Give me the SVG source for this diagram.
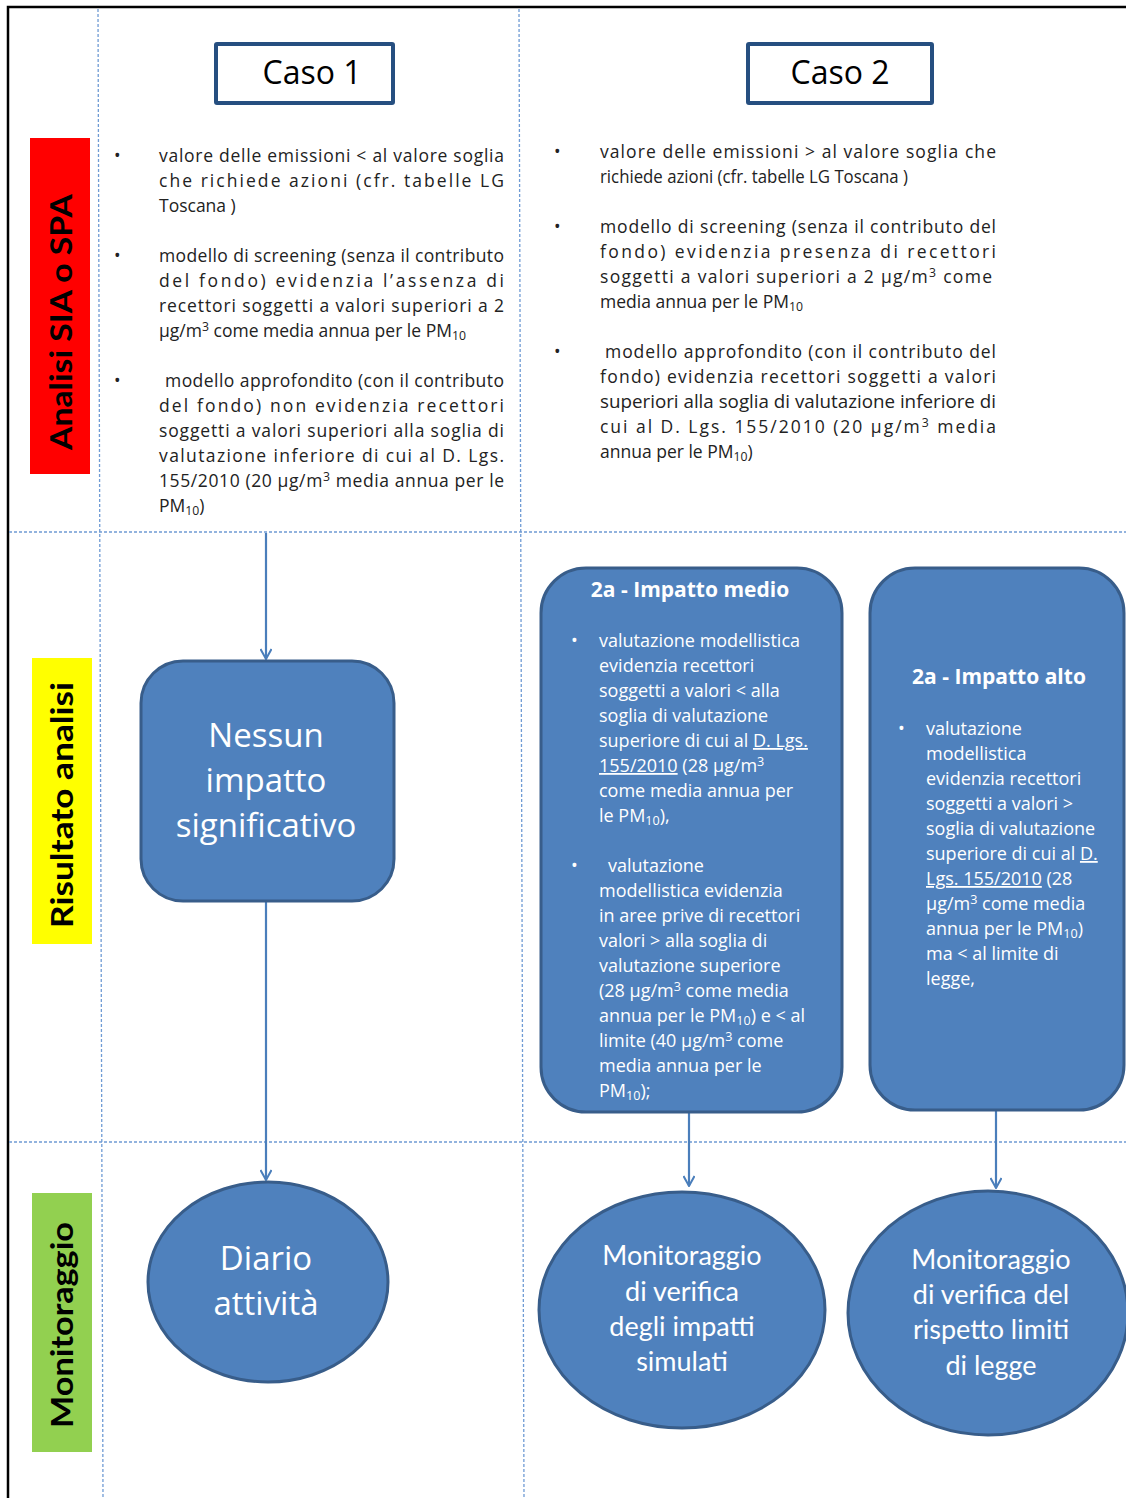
<svg xmlns="http://www.w3.org/2000/svg" width="1126" height="1498" viewBox="0 0 1126 1498">
<defs>
<style>
.grid{stroke:#6f9bd4;stroke-width:1.3;stroke-dasharray:3 2;fill:none}
.t{font-family:"Open Sans",Lato,"Liberation Sans",sans-serif;font-size:17.5px;fill:#222}
.b{font-family:"Open Sans",Lato,"Liberation Sans",sans-serif;font-size:18px;fill:#fff}
.h{font-family:"Open Sans",Lato,"Liberation Sans",sans-serif;font-size:21px;font-weight:bold;fill:#fff;text-anchor:middle}
.big{font-family:"Open Sans",Lato,"Liberation Sans",sans-serif;font-size:33px;fill:#fff;text-anchor:middle}
.mid{font-family:Lato,"Open Sans","Liberation Sans",sans-serif;font-size:27px;fill:#fff;text-anchor:middle}
.lab{font-family:Lato,"Open Sans","Liberation Sans",sans-serif;font-size:30px;font-weight:bold;fill:#000;text-anchor:middle}
.caso{font-family:"Open Sans",Lato,"Liberation Sans",sans-serif;font-size:32px;fill:#000;text-anchor:middle}
.node{fill:#4f81bd;stroke:#385d8a;stroke-width:3}
.conn{stroke:#4a7ebb;stroke-width:2.2;fill:none}
.sub{font-size:70%}
.u{text-decoration:underline}
</style>
<marker id="arr" viewBox="0 0 12 12" refX="11" refY="6" markerWidth="12" markerHeight="12" markerUnits="userSpaceOnUse" orient="auto">
<path d="M1,0.5 L11,6 L1,11.5" fill="none" stroke="#4a7ebb" stroke-width="2"/>
</marker>
</defs>
<rect width="1126" height="1498" fill="#fff"/>
<g id="frame">
<path d="M8,1498 V7 H1126" fill="none" stroke="#000" stroke-width="2.5"/>
<line class="grid" x1="98" y1="9" x2="103" y2="1498"/>
<line class="grid" x1="519" y1="9" x2="524" y2="1498"/>
<line class="grid" x1="9" y1="532" x2="1126" y2="532"/>
<line class="grid" x1="9" y1="1142" x2="1126" y2="1142"/>
</g>
<g id="label-analisi">
<rect x="30" y="138" width="60" height="336" fill="#ff0000"/>
<text class="lab" transform="translate(72,322) rotate(-90)" textLength="256" lengthAdjust="spacingAndGlyphs">Analisi SIA o SPA</text>
</g>
<g id="label-risultato">
<rect x="32" y="658" width="60" height="286" fill="#ffff00"/>
<text class="lab" transform="translate(73,805) rotate(-90)" textLength="246" lengthAdjust="spacingAndGlyphs">Risultato analisi</text>
</g>
<g id="label-monitoraggio">
<rect x="32" y="1193" width="60" height="259" fill="#92d050"/>
<text class="lab" transform="translate(73,1325) rotate(-90)" textLength="206" lengthAdjust="spacingAndGlyphs">Monitoraggio</text>
</g>
<g id="caso1">
<rect x="216" y="44" width="177" height="59" fill="#fff" stroke="#264f80" stroke-width="4" rx="1"/>
<text class="caso" x="312" y="84">Caso 1</text>
</g>
<g id="caso2">
<rect x="748" y="44" width="184" height="59" fill="#fff" stroke="#264f80" stroke-width="4" rx="1"/>
<text class="caso" x="840" y="84">Caso 2</text>
</g>
<g id="testo-caso1" class="t">
<text x="114" y="162">•</text>
<text x="159" y="162" textLength="345" lengthAdjust="spacing">valore delle emissioni &lt; al valore soglia</text>
<text x="159" y="187" textLength="345" lengthAdjust="spacing">che richiede azioni (cfr. tabelle LG</text>
<text x="159" y="212">Toscana )</text>
<text x="114" y="262">•</text>
<text x="159" y="262" textLength="345" lengthAdjust="spacing">modello di screening (senza il contributo</text>
<text x="159" y="287" textLength="345" lengthAdjust="spacing">del fondo) evidenzia l’assenza di</text>
<text x="159" y="312" textLength="345" lengthAdjust="spacing">recettori soggetti a valori superiori a 2</text>
<text x="159" y="337">µg/m<tspan class="sub" dy="-6">3</tspan><tspan dy="6"> come media annua per le PM</tspan><tspan class="sub" dy="3">10</tspan></text>
<text x="114" y="387">•</text>
<text x="165" y="387" textLength="339" lengthAdjust="spacing">modello approfondito (con il contributo</text>
<text x="159" y="412" textLength="345" lengthAdjust="spacing">del fondo) non evidenzia recettori</text>
<text x="159" y="437" textLength="345" lengthAdjust="spacing">soggetti a valori superiori alla soglia di</text>
<text x="159" y="462" textLength="345" lengthAdjust="spacing">valutazione inferiore di cui al D. Lgs.</text>
<text x="159" y="487" textLength="345" lengthAdjust="spacing">155/2010 (20 µg/m<tspan class="sub" dy="-6">3</tspan><tspan dy="6"> media annua per le</tspan></text>
<text x="159" y="512">PM<tspan class="sub" dy="3">10</tspan><tspan dy="-3">)</tspan></text>
</g>
<g id="testo-caso2" class="t">
<text x="554" y="158">•</text>
<text x="600" y="158" textLength="396" lengthAdjust="spacing">valore delle emissioni &gt; al valore soglia che</text>
<text x="600" y="183" textLength="308" lengthAdjust="spacingAndGlyphs">richiede azioni (cfr. tabelle LG Toscana )</text>
<text x="554" y="233">•</text>
<text x="600" y="233" textLength="396" lengthAdjust="spacing">modello di screening (senza il contributo del</text>
<text x="600" y="258" textLength="396" lengthAdjust="spacing">fondo) evidenzia presenza   di recettori</text>
<text x="600" y="283" textLength="392" lengthAdjust="spacing">soggetti a valori superiori a 2 µg/m<tspan class="sub" dy="-6">3</tspan><tspan dy="6"> come</tspan></text>
<text x="600" y="308">media annua per le PM<tspan class="sub" dy="3">10</tspan></text>
<text x="554" y="358">•</text>
<text x="605" y="358" textLength="391" lengthAdjust="spacing">modello approfondito (con il contributo del</text>
<text x="600" y="383" textLength="396" lengthAdjust="spacing">fondo) evidenzia recettori soggetti a valori</text>
<text x="600" y="408" textLength="396" lengthAdjust="spacingAndGlyphs">superiori alla soglia di valutazione inferiore di</text>
<text x="600" y="433" textLength="396" lengthAdjust="spacing">cui al D. Lgs. 155/2010 (20 µg/m<tspan class="sub" dy="-6">3</tspan><tspan dy="6"> media</tspan></text>
<text x="600" y="458">annua per le PM<tspan class="sub" dy="3">10</tspan><tspan dy="-3">)</tspan></text>
</g>
<g id="connectors">
<line class="conn" x1="266" y1="533" x2="266" y2="659" marker-end="url(#arr)"/>
<line class="conn" x1="266" y1="902" x2="266" y2="1180" marker-end="url(#arr)"/>
<line class="conn" x1="689" y1="1113" x2="689" y2="1186" marker-end="url(#arr)"/>
<line class="conn" x1="996" y1="1111" x2="996" y2="1188" marker-end="url(#arr)"/>
</g>
<g id="nessun-impatto">
<rect class="node" x="141" y="661" width="253" height="240" rx="42"/>
<text class="big" x="266" y="747">Nessun</text>
<text class="big" x="266" y="792">impatto</text>
<text class="big" x="266" y="837">significativo</text>
</g>
<g id="impatto-medio">
<rect class="node" x="541" y="568" width="301" height="544" rx="45"/>
<text class="h" x="690" y="597">2a - Impatto medio</text>
<g class="b">
<text x="571" y="647">•</text>
<text x="599" y="647">valutazione modellistica</text>
<text x="599" y="672">evidenzia recettori</text>
<text x="599" y="697">soggetti a valori  &lt; alla</text>
<text x="599" y="722">soglia di valutazione</text>
<text x="599" y="747">superiore di cui al <tspan class="u">D. Lgs.</tspan></text>
<text x="599" y="772"><tspan class="u">155/2010</tspan> (28 µg/m<tspan class="sub" dy="-6">3</tspan></text>
<text x="599" y="797">come media annua per</text>
<text x="599" y="822">le PM<tspan class="sub" dy="3">10</tspan><tspan dy="-3">),</tspan></text>
<text x="571" y="872">•</text>
<text x="608" y="872">valutazione</text>
<text x="599" y="897">modellistica evidenzia</text>
<text x="599" y="922">in aree prive di recettori</text>
<text x="599" y="947">valori &gt; alla soglia di</text>
<text x="599" y="972">valutazione superiore</text>
<text x="599" y="997">(28 µg/m<tspan class="sub" dy="-6">3</tspan><tspan dy="6"> come media</tspan></text>
<text x="599" y="1022">annua per le PM<tspan class="sub" dy="3">10</tspan><tspan dy="-3">) e &lt; al</tspan></text>
<text x="599" y="1047">limite (40 µg/m<tspan class="sub" dy="-6">3</tspan><tspan dy="6"> come</tspan></text>
<text x="599" y="1072">media annua per le</text>
<text x="599" y="1097">PM<tspan class="sub" dy="3">10</tspan><tspan dy="-3">);</tspan></text>
</g>
</g>
<g id="impatto-alto">
<rect class="node" x="870" y="568" width="254" height="542" rx="45"/>
<text class="h" x="999" y="684">2a - Impatto  alto</text>
<g class="b">
<text x="898" y="735">•</text>
<text x="926" y="735">valutazione</text>
<text x="926" y="760">modellistica</text>
<text x="926" y="785">evidenzia recettori</text>
<text x="926" y="810">soggetti a valori  &gt;</text>
<text x="926" y="835">soglia di valutazione</text>
<text x="926" y="860">superiore di cui al <tspan class="u">D.</tspan></text>
<text x="926" y="885"><tspan class="u">Lgs. 155/2010</tspan> (28</text>
<text x="926" y="910">µg/m<tspan class="sub" dy="-6">3</tspan><tspan dy="6"> come media</tspan></text>
<text x="926" y="935">annua per le PM<tspan class="sub" dy="3">10</tspan><tspan dy="-3">)</tspan></text>
<text x="926" y="960">ma  &lt; al limite di</text>
<text x="926" y="985">legge,</text>
</g>
</g>
<g id="diario">
<ellipse class="node" cx="268" cy="1282" rx="120" ry="100"/>
<text class="big" x="266" y="1270">Diario</text>
<text class="big" x="266" y="1315">attività</text>
</g>
<g id="monitoraggio-impatti">
<ellipse class="node" cx="682" cy="1310" rx="143" ry="118"/>
<text class="mid" x="682" y="1265">Monitoraggio</text>
<text class="mid" x="682" y="1301">di verifica</text>
<text class="mid" x="682" y="1336">degli impatti</text>
<text class="mid" x="682" y="1371">simulati</text>
</g>
<g id="monitoraggio-limiti">
<ellipse class="node" cx="988" cy="1313" rx="140" ry="122"/>
<text class="mid" x="991" y="1269">Monitoraggio</text>
<text class="mid" x="991" y="1304">di verifica del</text>
<text class="mid" x="991" y="1339">rispetto limiti</text>
<text class="mid" x="991" y="1375">di legge</text>
</g>
</svg>
